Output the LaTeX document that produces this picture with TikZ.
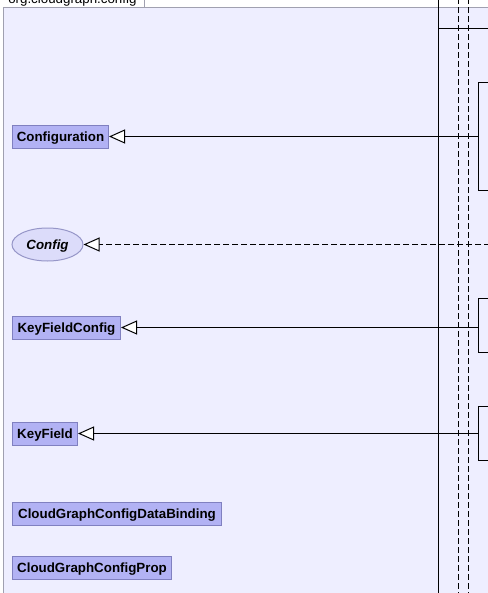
\documentclass[tikz,border=0pt]{standalone}
\usepackage{fontspec}
\setmainfont{Liberation Sans}
\usetikzlibrary{arrows.meta,shapes.geometric}
\definecolor{pkgbg}{RGB}{238,238,255}
\definecolor{pkgedge}{RGB}{160,160,176}
\definecolor{classfill}{RGB}{178,178,244}
\definecolor{classedge}{RGB}{128,128,192}
\definecolor{ifacefill}{RGB}{220,220,250}
\definecolor{ifaceedge}{RGB}{150,150,200}
\tikzset{
  classbox/.style={draw=classedge, fill=classfill, line width=0.75pt,
    minimum height=17.25pt, inner sep=0pt, anchor=west,
    text height=7.2pt, text depth=0pt,
    font=\fontsize{10}{12}\selectfont\bfseries},
  ifacebox/.style={ellipse, draw=ifaceedge, fill=ifacefill, line width=0.75pt,
    minimum width=53.25pt, minimum height=24.75pt, inner sep=0pt,
    text height=7.2pt, text depth=0pt,
    font=\fontsize{10}{12}\selectfont\bfseries\itshape},
  inherit/.style={line width=0.75pt, -{Triangle[fill=white, length=12pt, width=10.5pt, line width=0.75pt]}},
  realize/.style={inherit, dash pattern=on 4.5pt off 2.25pt},
  frame/.style={line width=0.75pt, black},
  lifeline/.style={line width=0.75pt, dash pattern=on 4.5pt off 2.25pt}
}
\begin{document}
\begin{tikzpicture}[x=0.75pt, y=-0.75pt]
  \useasboundingbox (0,0) rectangle (488,593);
  \clip (0,0) rectangle (488,593);

  % package frame and its name tab
  \fill[white] (0,0) rectangle (488,7);
  \fill[pkgbg] (3,7) rectangle (490,596);
  \draw[pkgedge, line width=0.75pt] (3,596) -- (3,7) -- (490,7);
  \draw[pkgedge, line width=0.75pt] (144,-2) -- (144,7);
  \node[anchor=base west, inner sep=0pt, font=\fontsize{10}{12}\selectfont] (tab) at (8,3) {org.cloudgraph.config};

  % classes of the package
  \node[classbox, minimum width=72pt] (conf) at (12,136.5) {Configuration};
  \node[ifacebox] (cfg) at (47.5,244.5) {Config};
  \node[classbox, minimum width=81pt] (kfc) at (12,327.5) {KeyFieldConfig};
  \node[classbox, minimum width=48.75pt] (kf) at (12,433.5) {KeyField};
  \node[classbox, minimum width=156.75pt] (bind) at (12,514) {CloudGraphConfigDataBinding};
  \node[classbox, minimum width=119.25pt] (prop) at (12,568) {CloudGraphConfigProp};

  % neighbouring package on the right
  \draw[frame] (438.5,-2) -- (438.5,596);
  \draw[frame] (438.5,28.5) -- (490,28.5);
  \draw[lifeline] (458.5,-2) -- (458.5,596);
  \draw[lifeline] (468.5,-2) -- (468.5,596);
  \draw[frame] (490,82.5) -- (478.5,82.5) -- (478.5,190.5) -- (490,190.5);
  \draw[frame] (490,298.5) -- (478.5,298.5) -- (478.5,352.5) -- (490,352.5);
  \draw[frame] (490,406.5) -- (478.5,406.5) -- (478.5,460.5) -- (490,460.5);

  % attachment points on the right
  \coordinate (pconf) at (478.5,136.5);
  \coordinate (pcfg) at (490,244.5);
  \coordinate (pkfc) at (478.5,327.5);
  \coordinate (pkf) at (478.5,433.5);

  % generalization and realization arrows
  \draw[inherit] (pconf) -- (conf.east);
  \draw[realize] (pcfg) -- (cfg.east);
  \draw[inherit] (pkfc) -- (kfc.east);
  \draw[inherit] (pkf) -- (kf.east);
\end{tikzpicture}
\end{document}
